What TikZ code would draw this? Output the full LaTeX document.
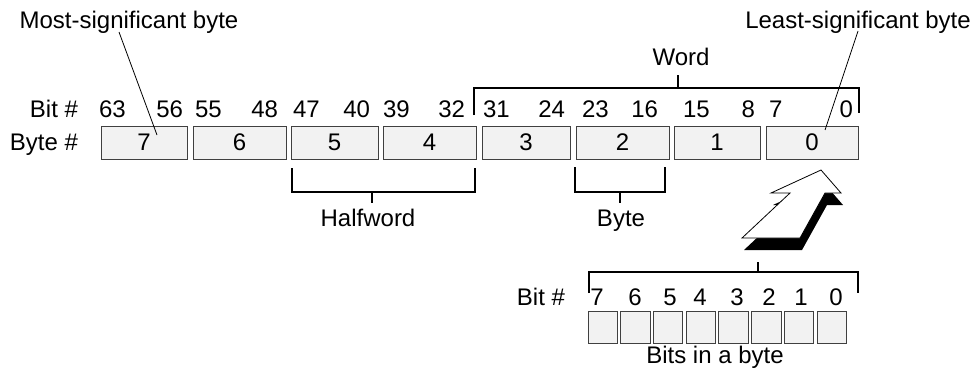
\documentclass[tikz,border=0pt]{standalone}
\usepackage{fontspec}
\setmainfont{Liberation Sans}
\begin{document}
\begin{tikzpicture}[x=1pt,y=-1pt,
  every node/.style={inner sep=0pt, outer sep=0pt, font=\fontsize{24}{28}\selectfont},
  bytebox/.style={draw=black!75, fill=black!5, line width=0.9pt, minimum height=33pt, anchor=north west},
  bitbox/.style={draw=black!75, fill=black!5, line width=0.9pt, minimum height=32pt, minimum width=29.5pt, anchor=north west},
  bracket/.style={draw=black, line width=1.3pt},
  leader/.style={draw=black, line width=0.8pt}]
\useasboundingbox (0,0) rectangle (973,375);

% top labels
\node[anchor=base] (msb) at (129,28) {Most-significant byte};
\node[anchor=base] (lsb) at (858,28) {Least-significant byte};
\node[anchor=base] (word) at (681,65) {Word};

% row labels
\node[anchor=base east] (bitlbl) at (78,117) {Bit \#};
\node[anchor=base east] (bytelbl) at (78,150) {Byte \#};

% byte boxes
\node[bytebox, minimum width=86pt] (b7) at (101,126) {};
\node[bytebox, minimum width=93pt] (b6) at (193,126) {};
\node[bytebox, minimum width=87pt] (b5) at (291,126) {};
\node[bytebox, minimum width=93pt] (b4) at (383,126) {};
\node[bytebox, minimum width=88pt] (b3) at (482,126) {};
\node[bytebox, minimum width=93pt] (b2) at (576,126) {};
\node[bytebox, minimum width=86pt] (b1) at (674,126) {};
\node[bytebox, minimum width=92pt] (b0) at (766,126) {};
\foreach \b in {7,6,5,4,3,2,1,0}{
  \node[anchor=base] (t\b) at ([yshift=-24pt]b\b.north) {\b};
}

% bit numbers above bytes
\foreach \n/\x in {63/99,55/195,47/293,39/383,31/483,23/582,15/683,7/769}{
  \node[anchor=base west] (hl\n) at (\x,117) {\n};
}
\foreach \n/\x in {56/183,48/278,40/370,32/465,24/565,16/658,8/755,0/853}{
  \node[anchor=base east] (hr\n) at (\x,117) {\n};
}

% leaders
\coordinate (msbA) at (119,32);
\coordinate (msbB) at (157,135);
\draw[leader] (msbA) -- (msbB);
\coordinate (lsbA) at (858,31);
\coordinate (lsbB) at (825,130);
\draw[leader] (lsbA) -- (lsbB);

% word bracket
\coordinate (wL) at (474,88);
\coordinate (wR) at (859,88);
\coordinate (wT) at (678,88);
\coordinate (wLb) at (474,115);
\coordinate (wRb) at (859,113);
\coordinate (wTt) at (678,75);
\draw[bracket] (wLb) -- (wL) -- (wR) -- (wRb);
\draw[bracket] (wT) -- (wTt);

% halfword bracket
\draw[bracket] (292,168) -- (292,192) -- (475,192) -- (475,168);
\draw[bracket] (372,192) -- (372,203);
\node[anchor=base] (half) at (368,226) {Halfword};

% byte bracket
\draw[bracket] (575,167) -- (575,192) -- (665,192) -- (665,167);
\draw[bracket] (620,192) -- (620,203);
\node[anchor=base] (bytel) at (621,226) {Byte};

% 3D arrow
\fill[black] (823,182) -- (843,205) -- (827,205) -- (802,250) -- (744,250) -- (792,205) -- (773,205) -- cycle;
\filldraw[fill=white, draw=black, line width=0.8pt, line join=miter] (821,170) -- (841,193) -- (825,193) -- (800,238) -- (742,238) -- (790,193) -- (771,193) -- cycle;

% bits bracket
\draw[bracket] (589,293) -- (589,272) -- (858,272) -- (858,293);
\draw[bracket] (758,272) -- (758,262);

% bits row
\node[anchor=base east] (bitlbl2) at (565,305) {Bit \#};
\foreach \i/\x in {0/588,1/620.7,2/653.4,3/686.1,4/718.8,5/751.5,6/784.2,7/817}{
  \node[bitbox] (bb\i) at (\x,311) {};
}
\foreach \d/\x in {7/597,6/635,5/670,4/700,3/737,2/769,1/801,0/836}{
  \node[anchor=base] (bd\d) at (\x,305) {\d};
}
\node[anchor=base] (bitsin) at (715,363) {Bits in a byte};
\end{tikzpicture}
\end{document}
